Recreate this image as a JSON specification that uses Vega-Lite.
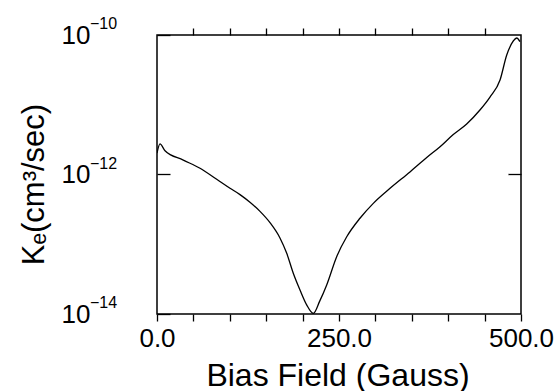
{
  "$schema": "https://vega.github.io/schema/vega-lite/v6.json",
  "autosize": {"type": "none"},
  "padding": {"left": 157, "top": 35, "right": 38, "bottom": 77},
  "width": 364,
  "height": 279,
  "background": "white",
  "config": {
    "view": {"stroke": "black", "strokeWidth": 1.5},
    "font": "Liberation Sans",
    "axis": {"domain": false, "grid": false, "ticks": true, "tickColor": "black", "tickWidth": 1.3, "labelColor": "black", "titleColor": "black", "labelFont": "Liberation Sans", "titleFont": "Liberation Sans", "labelFontWeight": "normal", "titleFontWeight": "normal"}
  },
  "datasets": {
    "curve": [
      {"field": 0, "k": 2.03e-12},
      {"field": 4.1, "k": 2.74e-12},
      {"field": 11.0, "k": 2.19e-12},
      {"field": 36.1, "k": 1.61e-12},
      {"field": 59.1, "k": 1.23e-12},
      {"field": 82.0, "k": 8.53e-13},
      {"field": 100.3, "k": 6.34e-13},
      {"field": 114.0, "k": 5.15e-13},
      {"field": 127.7, "k": 4.0e-13},
      {"field": 141.5, "k": 2.96e-13},
      {"field": 155.2, "k": 2.04e-13},
      {"field": 168.9, "k": 1.23e-13},
      {"field": 178.2, "k": 7.41e-14},
      {"field": 187.2, "k": 3.84e-14},
      {"field": 196.4, "k": 2.21e-14},
      {"field": 205.6, "k": 1.35e-14},
      {"field": 214.7, "k": 1.02e-14},
      {"field": 223.5, "k": 1.53e-14},
      {"field": 233.1, "k": 2.61e-14},
      {"field": 246.8, "k": 6.64e-14},
      {"field": 260.6, "k": 1.28e-13},
      {"field": 278.8, "k": 2.36e-13},
      {"field": 297.1, "k": 3.86e-13},
      {"field": 320.1, "k": 6.34e-13},
      {"field": 347.5, "k": 1.09e-12},
      {"field": 370.5, "k": 1.75e-12},
      {"field": 388.4, "k": 2.48e-12},
      {"field": 407.0, "k": 3.74e-12},
      {"field": 425.4, "k": 5.3e-12},
      {"field": 443.6, "k": 8.41e-12},
      {"field": 457.4, "k": 1.29e-11},
      {"field": 471.2, "k": 2.26e-11},
      {"field": 480.4, "k": 5.16e-11},
      {"field": 489.4, "k": 8.2e-11},
      {"field": 494.1, "k": 9.06e-11},
      {"field": 498.6, "k": 8.02e-11}
    ],
    "exponents": [
      {"k": 1e-14, "exp": "−14"},
      {"k": 1e-12, "exp": "−12"},
      {"k": 1e-10, "exp": "−10"}
    ]
  },
  "layer": [
    {
      "data": {"name": "curve"},
      "mark": {"type": "line", "color": "black", "strokeWidth": 1.3, "interpolate": "monotone", "clip": true},
      "encoding": {
        "x": {
          "field": "field", "type": "quantitative",
          "scale": {"domain": [0, 500], "nice": false, "zero": false},
          "axis": {
            "orient": "bottom",
            "values": [0, 50, 100, 150, 200, 250, 300, 350, 400, 450, 500],
            "ticks": true,
            "tickSize": 7,
            "encode": {"ticks": {"update": {"y2": {"signal": "datum.value === 250 ? -13 : -7"}}}},
            "labelExpr": "datum.value % 250 === 0 ? format(datum.value, '.1f') : ''",
            "labelFontSize": 26,
            "labelPadding": 4,
            "labelFlush": false,
            "labelOverlap": false,
            "title": "Bias Field (Gauss)",
            "titleFontSize": 32,
            "titleX": 180.5,
            "titleY": 71,
            "titleBaseline": "alphabetic",
            "titleAlign": "center"
          }
        },
        "y": {
          "field": "k", "type": "quantitative",
          "scale": {"type": "log", "domain": [1e-14, 1e-10], "nice": false},
          "axis": {
            "orient": "left",
            "values": [1e-14, 1e-12, 1e-10],
            "ticks": true,
            "tickSize": -13,
            "labelExpr": "'10'",
            "labelFontSize": 26,
            "labelPadding": 80,
            "labelOverlap": false,
            "labelFlush": false,
            "title": "Kₑ(cm³/sec)",
            "titleFontSize": 31,
            "titleAngle": -90,
            "titleX": -113.5,
            "titleY": 149,
            "titleBaseline": "alphabetic",
            "titleAlign": "center"
          }
        }
      }
    },
    {
      "data": {"name": "curve"},
      "mark": {"type": "line", "strokeOpacity": 0},
      "encoding": {
        "x": {
          "field": "field", "type": "quantitative",
          "axis": {
            "orient": "top",
            "values": [50, 100, 150, 200, 250, 300, 350, 400, 450],
            "ticks": true,
            "tickSize": 7,
            "encode": {"ticks": {"update": {"y2": {"signal": "datum.value === 250 ? 13 : 7"}}}},
            "labels": false,
            "title": null
          }
        },
        "y": {
          "field": "k", "type": "quantitative",
          "axis": {
            "orient": "right",
            "values": [1e-12],
            "ticks": true,
            "tickSize": -13,
            "labels": false,
            "title": null
          }
        }
      }
    },
    {
      "data": {"name": "exponents"},
      "mark": {"type": "text", "align": "left", "baseline": "alphabetic", "dx": -67, "dy": -6, "fontSize": 16, "font": "Liberation Sans", "color": "black", "clip": false},
      "encoding": {
        "x": {"datum": 0, "type": "quantitative", "axis": null},
        "y": {"field": "k", "type": "quantitative", "axis": null},
        "text": {"field": "exp"}
      }
    }
  ],
  "resolve": {"axis": {"x": "independent", "y": "independent"}}
}
